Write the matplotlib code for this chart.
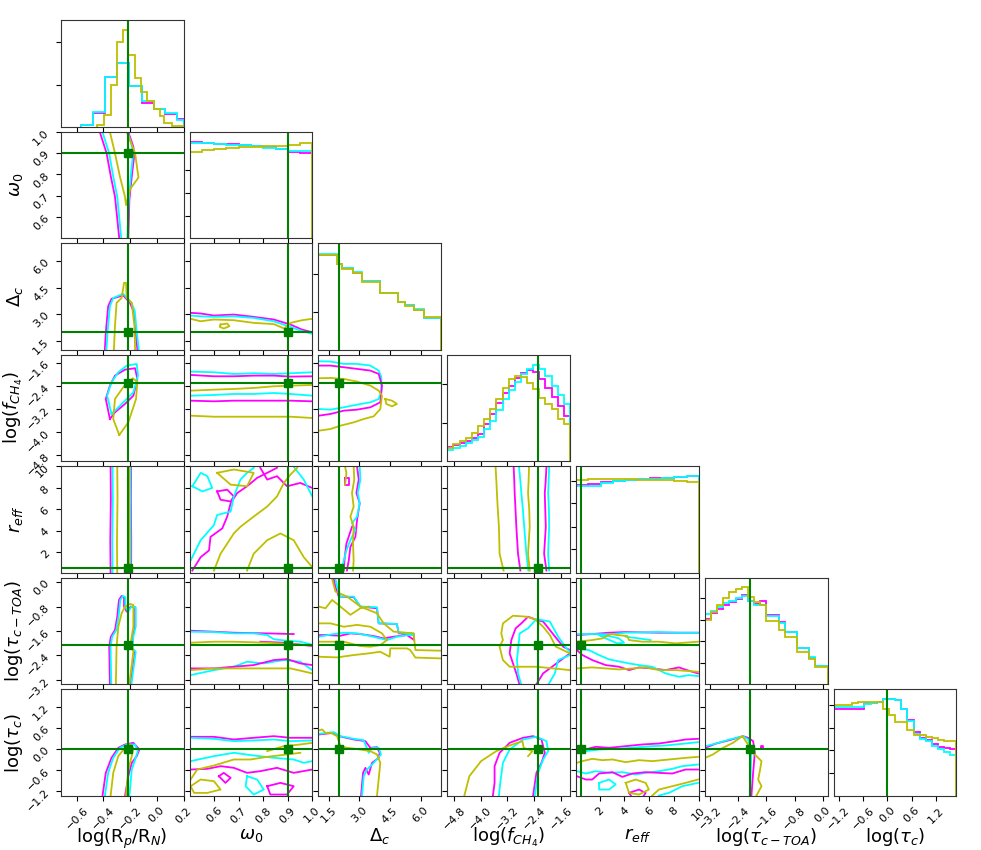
import numpy as np
import matplotlib
matplotlib.use("Agg")
import matplotlib.pyplot as plt

M, C, Y, G = "#ff00ff", "#00ffff", "#bfbf00", "green"

## parameter names, plot ranges, true values and ticks
labels = [r"log(R$_p$/R$_N$)", r"$\omega_0$", r"$\Delta_c$", r"log($f_{CH_4}$)",
          r"$r_{eff}$", r"log($\tau_{c-TOA}$)", r"log($\tau_c$)"]
ranges = [(-0.72, 0.2), (0.5, 1.0), (1.0, 7.0), (-5.0, -1.33), (0.1, 10.0), (-3.34, 0.14), (-1.32, 1.7)]
truths = [-0.22, 0.9, 2.0, -2.3, 0.5, -2.05, 0.0]
ticks = [[-0.6, -0.4, -0.2, 0.0, 0.2], [0.6, 0.7, 0.8, 0.9, 1.0], [1.5, 3.0, 4.5, 6.0],
         [-4.8, -4.0, -3.2, -2.4, -1.6], [2, 4, 6, 8, 10], [-3.2, -2.4, -1.6, -0.8, 0.0],
         [-1.2, -0.6, 0.0, 0.6, 1.2]]
hist_yticks = [[125, 252], [67, 135, 203], [112, 225], [115, 230], [70, 138, 207, 275],
               [64, 128, 192, 257], [68, 136, 203, 270]]

## 1D histograms (heights, arbitrary units)
h_rp_edges = [-0.57, -0.48, -0.39, -0.30, -0.21, -0.11, -0.02, 0.06, 0.15, 0.2]
h_rp_m = [4, 42, 149, 190, 122, 72, 54, 37, 22]
h_rp_c = [4, 45, 149, 190, 122, 76, 52, 40, 20]
h_rp_y_edges = [-0.446, -0.395, -0.347, -0.302, -0.256, -0.214, -0.163, -0.12, -0.075,
                -0.025, 0.021, 0.056, 0.114, 0.2]
h_rp_y = [6, 34, 124, 254, 289, 214, 147, 104, 77, 54, 32, 12, 2]

h_w0_m = [288, 286, 283, 281, 279, 276, 272, 266, 259, 255]
h_w0_c = [286, 284, 282, 280, 278, 275, 271, 266, 262, 261]
h_w0_y = [258, 264, 268, 270, 272, 274, 276, 275, 278, 284]

h_dc_edges = [1.0, 1.93, 2.14, 2.71, 3.12, 4.02, 4.91, 5.24, 5.65, 6.14, 7.0]
h_dc_m = [284, 257, 243, 230, 205, 168, 143, 133, 120, 95]
h_dc_c = [285, 256, 244, 231, 205, 168, 142, 133, 121, 96]
h_dc_y = [283, 255, 242, 228, 203, 168, 142, 132, 120, 97]

h_ch4_m = [43, 47, 53, 60, 69, 80, 110, 140, 173, 203, 225, 250, 265, 273, 267, 245, 220, 193, 165, 135]
h_ch4_c = [33, 38, 45, 53, 62, 73, 95, 120, 153, 185, 213, 237, 260, 275, 287, 277, 255, 225, 197, 170]
h_ch4_y = [40, 50, 60, 70, 85, 105, 125, 155, 187, 220, 245, 255, 253, 235, 215, 190, 170, 155, 125, 112]

h_reff_m = [263, 266, 270, 274, 277, 279, 282, 284, 286, 288]
h_reff_c = [260, 258, 268, 273, 276, 280, 281, 284, 286, 288]
h_reff_y = [278, 279, 280, 279, 279, 278, 277, 276, 275, 272]

h_toa_m = [195, 212, 225, 238, 247, 255, 267, 250, 240, 250, 207, 207, 185, 157, 157, 107, 107, 77, 53, 53]
h_toa_c = [210, 218, 230, 242, 250, 257, 265, 248, 238, 238, 205, 205, 183, 157, 157, 109, 109, 80, 55, 55]
h_toa_y = [193, 215, 237, 257, 275, 285, 290, 262, 245, 237, 190, 190, 163, 140, 140, 97, 97, 75, 50, 50]

h_tc_m = [260, 260, 260, 260, 260, 278, 278, 280, 288, 288, 285, 260, 225, 190, 172, 167, 155, 145, 142, 140]
h_tc_c = [265, 265, 265, 265, 265, 275, 278, 280, 288, 288, 285, 258, 222, 185, 170, 165, 150, 140, 130, 123]
h_tc_y = [272, 272, 272, 277, 280, 280, 280, 280, 260, 240, 220, 220, 195, 182, 180, 175, 172, 167, 165, 163]

## 2D contour lines: (colour, x values, y values)
cont_w0_rp = [
    (M, [-0.428, -0.377, -0.345, -0.314, -0.282], [1.0, 0.9, 0.79, 0.695, 0.5]),
    (M, [-0.214, -0.176, -0.171, -0.188, -0.206, -0.214], [1.0, 0.93, 0.88, 0.79, 0.68, 0.5]),
    (C, [-0.408, -0.358, -0.327, -0.297, -0.267], [1.0, 0.9, 0.79, 0.695, 0.5]),
    (C, [-0.219, -0.186, -0.181, -0.196, -0.211, -0.221], [1.0, 0.93, 0.88, 0.79, 0.68, 0.5]),
    (Y, [-0.352, -0.314, -0.277, -0.239, -0.231, -0.201, -0.138, -0.163, -0.226],
        [1.0, 0.9, 0.79, 0.695, 0.655, 0.73, 0.785, 0.9, 1.0]),
]
cont_dc_rp = [
    (M, [-0.39, -0.383, -0.365, -0.34, -0.252, -0.201, -0.176, -0.163, -0.146],
        [1.0, 1.945, 3.45, 3.87, 4.06, 3.64, 3.17, 2.32, 1.0]),
    (C, [-0.378, -0.37, -0.352, -0.327, -0.252, -0.19, -0.165, -0.155, -0.136],
        [1.0, 1.945, 3.45, 3.92, 4.15, 3.64, 3.17, 2.32, 1.0]),
    (Y, [-0.322, -0.314, -0.302, -0.264, -0.246, -0.231, -0.226, -0.188, -0.168, -0.163],
        [1.0, 2.32, 3.64, 3.92, 4.77, 4.77, 3.92, 3.64, 2.32, 1.0]),
]
cont_ch4_rp = [
    (M, [-0.352, -0.383, -0.352, -0.314, -0.239, -0.163, -0.146, -0.176, -0.239, -0.314, -0.352],
        [-3.546, -2.853, -2.393, -2.047, -1.839, -1.79, -2.161, -2.739, -3.026, -3.314, -3.546]),
    (C, [-0.34, -0.373, -0.34, -0.289, -0.226, -0.151, -0.141, -0.176, -0.252, -0.314, -0.34],
        [-3.37, -2.739, -2.275, -1.93, -1.7, -1.642, -2.047, -2.624, -2.97, -3.26, -3.37]),
    (Y, [-0.282, -0.327, -0.314, -0.252, -0.181, -0.146, -0.156, -0.214, -0.282],
        [-4.1, -3.546, -2.853, -2.448, -2.137, -2.254, -2.853, -3.66, -4.1]),
]
cont_reff_rp = [
    (M, [-0.347, -0.345, -0.349, -0.347], [10.0, 7.0, 3.0, 0.1]),
    (M, [-0.193, -0.195, -0.192, -0.193], [10.0, 7.0, 3.0, 0.1]),
    (C, [-0.332, -0.33, -0.334, -0.332], [10.0, 7.0, 3.0, 0.1]),
    (C, [-0.198, -0.2, -0.197, -0.198], [10.0, 7.0, 3.0, 0.1]),
    (Y, [-0.297, -0.295, -0.299, -0.297], [10.0, 7.0, 3.0, 0.1]),
    (Y, [-0.206, -0.208, -0.205, -0.206], [10.0, 7.0, 3.0, 0.1]),
]
cont_toa_rp = [
    (M, [-0.352, -0.357, -0.345, -0.314, -0.297, -0.284, -0.264, -0.246, -0.246, -0.226, -0.196,
         -0.163, -0.163, -0.181, -0.188, -0.163, -0.196],
        [-3.317, -2.115, -1.787, -1.567, -1.13, -0.582, -0.451, -0.494, -0.802, -0.966, -0.802,
         -0.822, -1.459, -1.787, -2.168, -2.28, -3.317]),
    (C, [-0.342, -0.347, -0.335, -0.304, -0.287, -0.274, -0.254, -0.236, -0.236, -0.216, -0.19,
         -0.158, -0.158, -0.176, -0.183, -0.158, -0.19],
        [-3.317, -2.115, -1.787, -1.567, -1.13, -0.582, -0.451, -0.494, -0.802, -0.966, -0.802,
         -0.822, -1.459, -1.787, -2.168, -2.28, -3.317]),
    (Y, [-0.307, -0.302, -0.289, -0.264, -0.239, -0.201, -0.176, -0.176, -0.193, -0.176, -0.206],
        [-3.317, -2.115, -1.459, -1.02, -0.802, -0.714, -0.747, -1.459, -1.896, -2.28, -3.317]),
]
cont_tc_rp = [
    (M, [-0.408, -0.383, -0.34, -0.289, -0.239, -0.176, -0.131, -0.151, -0.188, -0.214, -0.239],
        [-1.34, -0.673, -0.246, 0.039, 0.133, 0.181, -0.01, -0.2, -0.39, -0.77, -1.34]),
    (C, [-0.39, -0.365, -0.327, -0.277, -0.226, -0.163, -0.143, -0.163, -0.188, -0.206],
        [-1.34, -0.673, -0.246, 0.039, 0.133, 0.133, -0.057, -0.295, -0.578, -1.34]),
    (Y, [-0.347, -0.327, -0.289, -0.239, -0.201, -0.176, -0.188, -0.214, -0.231],
        [-1.34, -0.673, -0.198, 0.039, 0.133, 0.039, -0.198, -0.578, -1.34]),
]
cont_dc_w0 = [
    (M, [0.504, 0.545, 0.599, 0.68, 0.761, 0.843, 0.911, 0.958, 1.0],
        [3.077, 3.04, 2.925, 2.98, 2.85, 2.7, 2.415, 2.13, 1.98]),
    (C, [0.504, 0.545, 0.599, 0.68, 0.761, 0.843, 0.911, 0.958, 1.0],
        [2.925, 2.88, 2.85, 2.88, 2.79, 2.6, 2.28, 2.04, 1.89]),
    (Y, [0.504, 0.545, 0.599, 0.68, 0.761, 0.843, 0.885, 0.911, 0.958, 1.0],
        [2.74, 2.6, 2.7, 2.66, 2.51, 2.44, 2.19, 2.51, 2.66, 2.74]),
    (Y, [0.626, 0.653, 0.662, 0.639, 0.623, 0.626], [2.415, 2.472, 2.32, 2.19, 2.28, 2.415]),
]
cont_ch4_w0 = [
    (C, [0.504, 0.599, 0.68, 0.761, 0.843, 0.911, 1.0], [-1.907, -1.93, -1.988, -1.965, -1.988, -1.965, -1.93]),
    (M, [0.504, 0.599, 0.68, 0.761, 0.843, 0.911, 1.0], [-2.022, -2.069, -2.069, -2.046, -2.046, -2.08, -2.069]),
    (Y, [0.504, 0.599, 0.68, 0.761, 0.843, 0.911, 1.0], [-2.566, -2.531, -2.507, -2.473, -2.415, -2.393, -2.369]),
    (C, [0.504, 0.599, 0.68, 0.761, 0.843, 0.911, 1.0], [-2.739, -2.715, -2.68, -2.68, -2.646, -2.68, -2.739]),
    (M, [0.504, 0.599, 0.68, 0.761, 0.843, 0.911, 1.0], [-2.912, -2.934, -2.912, -2.912, -2.912, -2.912, -2.934]),
    (Y, [0.504, 0.599, 0.68, 0.761, 0.843, 0.911, 1.0], [-3.43, -3.466, -3.466, -3.466, -3.466, -3.466, -3.51]),
]
cont_reff_w0 = [
    (M, [0.511, 0.545, 0.579, 0.585, 0.633, 0.653, 0.667, 0.694, 0.734, 0.775, 0.816, 0.856],
        [0.29, 1.54, 2.17, 3.43, 4.22, 5.32, 6.57, 7.52, 8.15, 8.93, 9.4, 9.87]),
    (M, [0.612, 0.653, 0.68, 0.667, 0.626, 0.612], [7.67, 7.83, 7.2, 6.73, 6.89, 7.67]),
    (M, [0.788, 0.816, 0.856, 0.897, 0.951, 1.0], [9.87, 8.77, 9.09, 8.15, 8.46, 7.99]),
    (C, [0.504, 0.545, 0.599, 0.612, 0.667, 0.68, 0.707, 0.734, 0.761],
        [1.23, 3.12, 4.53, 5.47, 5.79, 7.2, 8.77, 9.4, 9.87]),
    (C, [0.511, 0.545, 0.572, 0.592, 0.552, 0.511], [8.15, 9.4, 9.09, 7.99, 7.67, 8.15]),
    (C, [0.924, 0.965, 1.0], [9.97, 8.77, 7.2]),
    (Y, [0.599, 0.626, 0.653, 0.68, 0.707, 0.761, 0.816, 0.856, 0.884, 0.911, 0.938],
        [0.29, 1.86, 2.8, 3.75, 4.37, 5.32, 6.26, 7.2, 8.46, 9.24, 9.87]),
    (Y, [0.734, 0.761, 0.816, 0.87, 0.924, 0.965, 1.0], [0.29, 1.86, 3.12, 3.75, 3.12, 1.54, 0.6]),
    (Y, [0.612, 0.68, 0.761, 0.734, 0.667, 0.612], [9.4, 9.71, 9.4, 8.15, 8.3, 9.4]),
]
cont_toa_w0 = [
    (M, [0.504, 0.599, 0.68, 0.816, 0.924], [-1.59, -1.623, -1.656, -1.678, -1.70]),
    (M, [0.788, 0.884, 1.0], [-1.951, -1.984, -2.093]),
    (C, [0.504, 0.599, 0.68, 0.761, 0.816, 0.843, 0.897, 0.95, 1.0],
        [-1.623, -1.634, -1.678, -1.678, -1.733, -1.87, -1.92, -1.95, -2.05]),
    (Y, [0.504, 0.599, 0.68, 0.816, 0.911, 1.0], [-1.984, -1.951, -1.951, -1.984, -2.028, -2.071]),
    (C, [0.504, 0.599, 0.68, 0.734, 0.802, 0.884, 0.951, 1.0],
        [-3.045, -2.881, -2.771, -2.607, -2.662, -2.553, -2.607, -2.881]),
    (M, [0.504, 0.599, 0.68, 0.761, 0.843, 0.897, 0.951, 1.0],
        [-2.826, -2.826, -2.771, -2.717, -2.553, -2.52, -2.662, -2.717]),
    (Y, [0.504, 0.599, 0.68, 0.816, 0.911, 1.0], [-2.881, -2.826, -2.826, -2.826, -2.826, -2.99]),
]
cont_tc_w0 = [
    (M, [0.504, 0.599, 0.68, 0.761, 0.843, 0.911, 1.0], [0.352, 0.352, 0.276, 0.324, 0.37, 0.324, 0.324]),
    (C, [0.504, 0.599, 0.68, 0.761, 0.843, 0.911, 1.0], [0.324, 0.295, 0.229, 0.248, 0.276, 0.229, 0.248]),
    (Y, [0.816, 0.884, 0.951, 1.0], [-0.055, 0.087, 0.134, 0.181]),
    (C, [0.504, 0.599, 0.68, 0.761, 0.843, 0.924, 0.965, 1.0],
        [-0.34, -0.198, -0.103, -0.179, -0.245, -0.293, -0.388, -0.34]),
    (M, [0.504, 0.572, 0.626, 0.68, 0.734, 0.788, 0.856, 0.924, 1.0],
        [-0.578, -0.559, -0.483, -0.53, -0.673, -0.625, -0.53, -0.673, -0.578]),
    (Y, [0.504, 0.531, 0.599, 0.68, 0.748, 0.816, 0.897, 0.951],
        [-0.863, -0.578, -0.464, -0.293, -0.293, -0.217, -0.15, -0.103]),
    (M, [0.619, 0.639, 0.667, 0.646, 0.619], [-0.768, -0.673, -0.815, -0.958, -0.768]),
    (C, [0.734, 0.775, 0.802, 0.761, 0.728, 0.734], [-0.768, -0.863, -1.148, -1.29, -1.053, -0.768]),
    (Y, [0.504, 0.545, 0.599, 0.626, 0.572, 0.518, 0.504], [-1.053, -0.863, -0.91, -1.148, -1.243, -1.243, -1.053]),
    (M, [0.816, 0.87, 0.924, 0.897, 0.829, 0.816], [-1.053, -0.958, -1.053, -1.29, -1.29, -1.053]),
]
cont_ch4_dc = [
    (C, [1.016, 1.585, 2.236, 2.886, 3.537, 3.943, 4.073, 4.073, 3.943, 3.537, 2.886, 2.236, 1.585, 1.016],
        [-1.549, -1.56, -1.641, -1.641, -1.699, -1.872, -2.103, -2.6, -2.853, -2.968, -3.049, -3.141, -3.222, -3.199]),
    (M, [1.016, 1.585, 2.236, 2.886, 3.537, 3.943, 4.106, 4.024, 3.537, 2.886, 2.236, 1.585, 1.016],
        [-1.699, -1.699, -1.756, -1.814, -1.872, -1.987, -2.391, -2.968, -3.141, -3.222, -3.257, -3.372, -3.43]),
    (Y, [1.016, 1.585, 2.236, 2.886, 3.537, 3.943, 4.106, 4.024, 3.7, 3.212, 2.724, 2.073, 1.585, 1.016],
        [-2.137, -2.126, -2.16, -2.253, -2.391, -2.564, -2.737, -3.199, -3.453, -3.545, -3.661, -3.776, -3.891, -3.949]),
    (Y, [4.268, 4.593, 4.837, 4.593, 4.317, 4.268], [-2.853, -2.91, -3.026, -3.107, -3.026, -2.853]),
]
cont_reff_dc = [
    (M, [2.886, 2.97, 2.854, 3.017, 2.886, 2.805, 2.56, 2.48, 2.39],
        [9.97, 8.77, 7.52, 6.57, 5.0, 3.43, 2.49, 1.23, 0.29]),
    (M, [2.236, 2.285, 2.366, 2.53, 2.64], [0.29, 1.54, 2.8, 3.75, 4.37]),
    (M, [2.285, 2.51, 2.51, 2.285, 2.285], [8.93, 8.93, 8.3, 8.3, 8.93]),
    (C, [3.017, 3.05, 2.92, 3.017, 2.886, 2.64, 2.805, 2.56, 2.366, 2.236, 2.155],
        [9.97, 8.77, 7.52, 6.57, 5.32, 4.69, 4.06, 3.12, 2.17, 1.23, 0.29]),
    (Y, [2.72, 2.75, 2.64, 2.72, 2.56, 2.72, 2.69, 2.72, 2.69],
        [9.97, 8.77, 7.52, 6.26, 5.32, 4.37, 2.8, 1.23, 0.29]),
    (Y, [2.3, 2.366, 2.33, 2.3], [9.97, 9.4, 8.77, 8.3]),
]
cont_toa_dc = [
    (M, [1.748, 1.829, 1.992, 2.724, 3.049, 3.862, 3.943, 4.837, 4.919, 5.65, 5.683, 5.325, 4.675,
         4.187, 3.7, 3.049, 2.561, 2.073, 1.423, 1.016],
        [0.107, -0.144, -0.472, -0.494, -0.8, -0.855, -1.35, -1.37, -1.678, -1.7, -1.897, -1.733,
         -1.787, -1.842, -1.766, -1.7, -1.678, -1.755, -1.733, -1.733]),
    (C, [1.829, 1.91, 2.073, 2.724, 3.049, 3.862, 3.943, 4.837, 4.919, 5.65, 5.683, 5.325, 4.837,
         4.35, 3.537, 2.886, 2.236, 1.748, 1.016],
        [0.107, -0.144, -0.472, -0.472, -0.8, -0.82, -1.35, -1.37, -1.656, -1.678, -1.733, -1.733,
         -1.787, -1.897, -1.766, -1.678, -1.656, -1.7, -1.787]),
    (Y, [1.667, 1.829, 2.399, 3.049, 3.862, 4.187, 4.675, 5.65, 5.74, 7.0],
        [0.107, -0.308, -0.472, -0.8, -1.02, -1.35, -1.62, -1.678, -2.224, -2.246]),
    (Y, [1.016, 1.91, 2.724, 3.456, 4.024, 4.48, 4.512, 5.325, 5.488, 5.74, 7.0],
        [-2.443, -2.465, -2.388, -2.333, -2.28, -2.443, -2.17, -2.17, -2.224, -2.47, -2.498]),
    (Y, [1.016, 1.342, 1.667, 2.073, 2.561, 3.049, 3.456], [-0.8, -0.855, -0.582, -0.8, -1.07, -0.855, -0.8]),
    (Y, [1.016, 1.585, 2.236, 2.886, 3.537, 4.106, 4.35, 4.024, 3.537, 3.049, 2.236, 1.585, 1.016],
        [-1.35, -1.35, -1.46, -1.4, -1.46, -1.678, -1.897, -2.06, -2.115, -2.093, -1.951, -1.951, -1.951]),
]
cont_tc_dc = [
    (M, [1.016, 1.748, 1.992, 2.724, 3.293, 3.537, 3.862, 3.992, 3.943, 3.618, 3.456, 3.293, 3.18, 3.082],
        [0.418, 0.466, 0.371, 0.276, 0.229, 0.039, 0.058, -0.104, -0.246, -0.39, -0.72, -0.531, -0.673, -1.32]),
    (C, [1.016, 1.748, 2.073, 2.724, 3.212, 3.456, 3.618, 3.943, 4.057, 3.7, 3.375, 3.212, 3.13],
        [0.437, 0.485, 0.371, 0.295, 0.257, -0.104, 0.039, 0.039, -0.151, -0.39, -0.578, -0.768, -1.32]),
    (Y, [1.016, 1.179, 1.342, 1.585, 1.91, 2.073, 2.399, 3.049, 3.537, 3.862, 4.024, 3.943, 3.862],
        [0.532, 0.561, 0.466, 0.466, 0.371, 0.086, 0.039, -0.009, -0.056, -0.151, -0.39, -0.863, -1.32]),
]
cont_reff_ch4 = [
    (Y, [-3.556, -3.53, -3.516, -3.49, -3.456, -3.436, -3.316], [9.97, 8.5, 7.52, 6.0, 4.37, 1.86, 0.29]),
    (M, [-3.015, -2.995, -2.985, -2.96, -2.935, -2.885, -2.815], [9.97, 8.5, 7.52, 6.0, 4.37, 1.86, 0.29]),
    (C, [-2.855, -2.81, -2.785, -2.74, -2.715, -2.635, -2.575], [9.97, 8.5, 7.52, 6.0, 5.0, 1.86, 0.29]),
    (Y, [-2.555, -2.57, -2.585, -2.55, -2.535, -2.585, -2.535], [9.97, 8.5, 7.52, 6.0, 4.37, 1.86, 0.29]),
    (M, [-2.034, -2.06, -2.084, -2.07, -2.054, -2.104, -2.034], [9.97, 8.5, 7.52, 6.0, 4.37, 1.86, 0.29]),
    (C, [-1.954, -1.97, -1.984, -1.96, -1.954, -1.984, -1.954], [9.97, 8.5, 7.52, 6.0, 4.37, 1.86, 0.29]),
]
cont_toa_ch4 = [
    (M, [-2.835, -2.935, -3.135, -3.085, -2.955, -2.785, -2.585, -2.334, -2.134, -1.733, -1.533, -1.332],
        [-3.37, -2.99, -2.333, -1.897, -1.51, -1.35, -1.13, -1.24, -1.29, -1.842, -2.115, -2.224]),
    (M, [-1.332, -1.733, -2.134, -2.334], [-2.333, -2.662, -2.99, -3.34]),
    (C, [-2.785, -2.885, -2.915, -2.835, -2.585, -2.334, -1.934, -1.683, -1.432, -1.332],
        [-3.37, -2.99, -2.552, -1.68, -1.51, -1.21, -1.29, -1.787, -2.17, -2.28]),
    (C, [-1.332, -1.683, -1.783, -1.984], [-2.388, -2.552, -2.99, -3.37]),
    (Y, [-1.332, -1.834, -2.334, -2.835, -3.135, -3.336, -3.436, -3.336, -3.386, -3.336, -3.035,
         -2.635, -2.384, -2.134, -1.934, -1.753, -1.332],
        [-2.881, -2.826, -2.771, -2.771, -2.771, -2.552, -2.115, -1.897, -1.68, -1.35, -1.1,
         -1.13, -1.21, -1.46, -1.733, -2.115, -2.333]),
]
cont_tc_ch4 = [
    (M, [-3.636, -3.586, -3.586, -3.436, -3.135, -2.734, -2.434, -2.183, -2.083, -2.183, -2.334, -2.434],
        [-1.32, -0.958, -0.483, -0.104, 0.181, 0.324, 0.371, 0.276, -0.104, -0.388, -0.673, -1.32]),
    (C, [-3.456, -3.416, -3.336, -3.135, -2.734, -2.334, -2.033, -1.983, -2.133, -2.283, -2.384],
        [-1.32, -0.958, -0.388, -0.009, 0.276, 0.352, 0.229, -0.056, -0.293, -0.673, -1.32]),
    (Y, [-4.49, -4.34, -3.99, -3.536, -3.135, -2.754, -2.714, -2.454, -2.584],
        [-1.32, -0.768, -0.34, -0.056, 0.105, 0.229, 0.039, -0.056, -0.198]),
]
cont_toa_reff = [
    (M, [0.15, 1.4, 2.76, 4.1, 6.78, 9.93], [-1.733, -1.7, -1.656, -1.634, -1.656, -1.656]),
    (C, [0.15, 1.68, 2.76, 4.1, 5.44, 6.78, 8.39, 9.93], [-1.7, -1.7, -1.711, -1.656, -1.645, -1.634, -1.656, -1.656]),
    (C, [1.95, 2.76, 3.56, 3.96, 3.43, 2.48, 1.95], [-1.733, -1.766, -1.842, -1.984, -2.006, -1.842, -1.733]),
    (C, [4.1, 5.17, 6.11], [-1.787, -1.842, -1.897]),
    (Y, [0.15, 1.4, 2.22, 2.89, 3.43, 4.23, 4.37, 5.44, 6.78, 8.12, 9.93],
        [-1.951, -1.897, -1.842, -1.7, -1.733, -1.766, -1.897, -1.951, -1.951, -2.006, -1.951]),
    (M, [0.15, 0.61, 1.4, 2.48, 3.56, 4.37, 5.17, 6.24, 7.32, 8.39, 9.2, 9.93],
        [-2.224, -2.388, -2.552, -2.717, -2.771, -2.881, -2.793, -2.826, -2.881, -2.793, -2.903, -2.99]),
    (C, [0.15, 1.12, 1.95, 2.76, 3.29, 4.37, 5.17, 6.24, 7.32, 8.39, 9.2, 9.93],
        [-2.17, -2.224, -2.388, -2.53, -2.574, -2.662, -2.717, -2.771, -2.99, -3.1, -3.045, -3.078]),
    (Y, [0.15, 1.4, 2.48, 3.56, 4.64, 5.71, 6.78, 8.12, 9.93],
        [-2.826, -2.793, -2.826, -2.859, -2.826, -2.793, -2.881, -2.881, -2.936]),
]
cont_tc_reff = [
    (M, [0.15, 0.61, 1.68, 2.76, 4.1, 5.44, 6.78, 8.12, 8.93, 9.93],
        [-0.056, -0.028, 0.067, 0.039, 0.086, 0.134, 0.162, 0.229, 0.276, 0.295]),
    (C, [0.15, 0.88, 1.95, 3.29, 4.64, 6.24, 7.32, 8.93, 9.93],
        [-0.104, -0.056, -0.009, 0.01, 0.039, 0.086, 0.105, 0.162, 0.2]),
    (Y, [0.15, 0.61, 1.4, 2.22, 3.03, 4.1, 5.17, 6.24, 7.59, 8.93, 9.93],
        [-0.388, -0.34, -0.274, -0.312, -0.293, -0.369, -0.312, -0.34, -0.293, -0.246, -0.218]),
    (C, [0.15, 0.88, 1.68, 2.76, 3.83, 4.9, 5.71, 6.78, 7.86, 8.66, 9.93],
        [-0.626, -0.692, -0.626, -0.673, -0.654, -0.72, -0.673, -0.626, -0.559, -0.483, -0.436]),
    (M, [0.15, 0.88, 1.4, 1.95, 3.03, 3.83, 4.64, 5.71, 6.78, 7.86, 8.93, 9.93],
        [-0.768, -0.863, -0.863, -0.692, -0.654, -0.787, -0.692, -0.654, -0.673, -0.692, -0.578, -0.578]),
    (M, [4.37, 5.17, 5.71, 5.44, 4.64, 4.37], [-1.243, -1.148, -1.243, -1.385, -1.385, -1.243]),
    (C, [1.95, 2.76, 3.29, 2.76, 1.95, 1.95], [-0.958, -0.863, -1.0, -1.148, -1.148, -0.958]),
    (Y, [4.1, 4.9, 5.71, 5.97, 5.17, 4.37, 4.1], [-0.958, -0.863, -0.958, -1.148, -1.29, -1.243, -0.958]),
    (Y, [6.24, 6.78, 7.86, 8.93, 9.93], [-1.32, -1.148, -1.053, -0.958, -0.863]),
    (C, [6.78, 7.59, 8.66, 9.93], [-1.32, -1.243, -1.053, -0.958]),
]
cont_tc_toa = [
    (M, [-3.333, -3.02, -2.64, -2.26, -2.117, -1.974, -1.927, -1.974, -2.022],
        [0.039, 0.162, 0.257, 0.371, 0.324, 0.229, -0.104, -0.673, -1.32]),
    (C, [-3.333, -3.02, -2.64, -2.26, -2.117, -2.022, -2.05, -2.07],
        [0.086, 0.162, 0.276, 0.371, 0.276, -0.104, -0.863, -1.32]),
    (Y, [-3.333, -3.115, -2.83, -2.545, -2.279, -2.117, -1.974, -1.879, -1.736, -1.784, -1.831, -1.736, -1.879],
        [-0.246, -0.151, 0.039, 0.181, 0.371, 0.134, -0.104, -0.198, -0.34, -0.626, -0.863, -1.053, -1.32]),
    (M, [-1.74, -1.70, -1.70, -1.74, -1.74], [0.03, 0.03, 0.08, 0.08, 0.03]),
]

hists = {
    0: [(M, h_rp_m, h_rp_edges), (C, h_rp_c, h_rp_edges), (Y, h_rp_y, h_rp_y_edges)],
    1: [(col, h, np.linspace(0.5, 1.0, 11)) for col, h in [(M, h_w0_m), (C, h_w0_c), (Y, h_w0_y)]],
    2: [(M, h_dc_m, h_dc_edges), (C, h_dc_c, h_dc_edges), (Y, h_dc_y, h_dc_edges)],
    3: [(col, h, np.linspace(-5.0, -1.33, 21)) for col, h in [(M, h_ch4_m), (C, h_ch4_c), (Y, h_ch4_y)]],
    4: [(col, h, np.linspace(0.1, 10.0, 11)) for col, h in [(M, h_reff_m), (C, h_reff_c), (Y, h_reff_y)]],
    5: [(col, h, np.linspace(-3.34, 0.14, 21)) for col, h in [(M, h_toa_m), (C, h_toa_c), (Y, h_toa_y)]],
    6: [(col, h, np.linspace(-1.32, 1.7, 21)) for col, h in [(M, h_tc_m), (C, h_tc_c), (Y, h_tc_y)]],
}
contours = {
    (1, 0): cont_w0_rp, (2, 0): cont_dc_rp, (3, 0): cont_ch4_rp, (4, 0): cont_reff_rp,
    (5, 0): cont_toa_rp, (6, 0): cont_tc_rp,
    (2, 1): cont_dc_w0, (3, 1): cont_ch4_w0, (4, 1): cont_reff_w0, (5, 1): cont_toa_w0, (6, 1): cont_tc_w0,
    (3, 2): cont_ch4_dc, (4, 2): cont_reff_dc, (5, 2): cont_toa_dc, (6, 2): cont_tc_dc,
    (4, 3): cont_reff_ch4, (5, 3): cont_toa_ch4, (6, 3): cont_tc_ch4,
    (5, 4): cont_toa_reff, (6, 4): cont_tc_reff,
    (6, 5): cont_tc_toa,
}

n = 7
fig, axes = plt.subplots(n, n, figsize=(9.81, 8.5), dpi=100)
fig.subplots_adjust(left=0.062, right=0.975, bottom=0.064, top=0.976, wspace=0.05, hspace=0.05)

for i in range(n):
    for j in range(n):
        ax = axes[i, j]
        if j > i:
            ax.axis("off")
            continue
        for s in ax.spines.values():
            s.set_color("#333333")
        ax.set_xlim(ranges[j])
        ax.set_xticks(ticks[j])
        if i == j:
            for col, h, e in hists[i]:
                ax.stairs(h, e, color=col, lw=1.3)
            ax.set_ylim(0, 318)
            ax.set_yticks(hist_yticks[i])
            ax.set_yticklabels([])
            ax.axvline(truths[j], color=G, lw=1.5)
        else:
            for col, xs, ys in contours[(i, j)]:
                ax.plot(xs, ys, color=col, lw=1.3)
            ax.set_ylim(ranges[i])
            ax.set_yticks(ticks[i])
            ax.axvline(truths[j], color=G, lw=1.5)
            ax.axhline(truths[i], color=G, lw=1.5)
            ax.plot(truths[j], truths[i], "s", color=G, ms=6)
            if j == 0:
                ax.set_ylabel(labels[i], fontsize=13)
                ax.yaxis.set_label_coords(-0.29, 0.5)
                for t in ax.get_yticklabels():
                    t.set_rotation(45)
                    t.set_fontsize(8)
            else:
                ax.set_yticklabels([])
        if i == n - 1:
            ax.set_xlabel(labels[j], fontsize=13)
            ax.xaxis.set_label_coords(0.5, -0.29)
            for t in ax.get_xticklabels():
                t.set_rotation(45)
                t.set_fontsize(8)
        else:
            ax.set_xticklabels([])

fig.savefig("out.png", dpi=100)
